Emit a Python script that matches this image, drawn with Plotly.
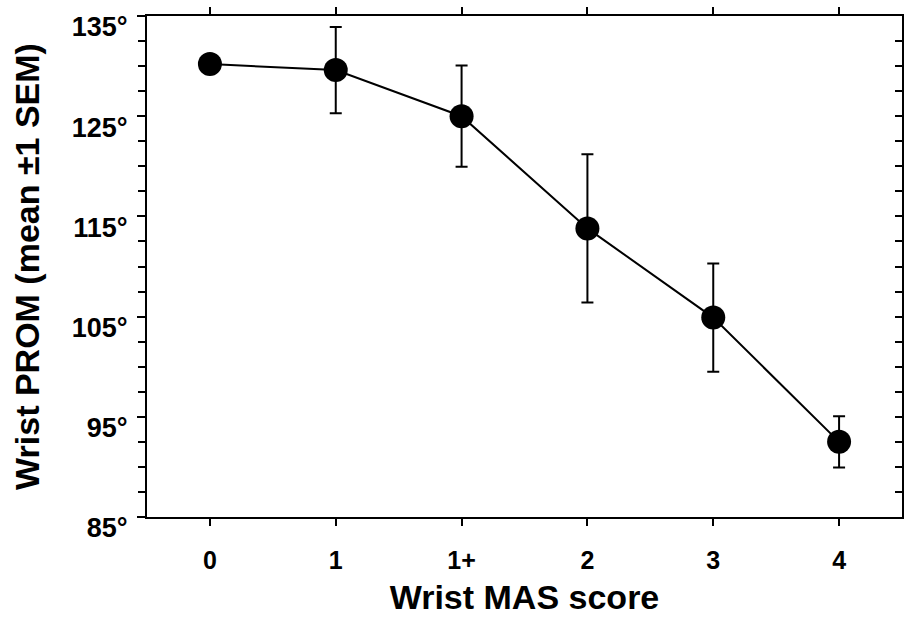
import plotly.graph_objects as go

categories = ["0", "1", "1+", "2", "3", "4"]
prom_mean = [130.2, 129.6, 125.0, 113.8, 104.9, 92.5]
prom_sem = [0.0, 4.3, 5.05, 7.4, 5.4, 2.55]
y_tick_vals = [85, 95, 105, 115, 125, 135]
y_tick_text = ["85°", "95°", "105°", "115°", "125°", "135°"]

FONT = "Liberation Sans, Arial, Helvetica, sans-serif"

fig = go.Figure()
fig.add_trace(go.Scatter(
    x=categories, y=prom_mean,
    mode="lines+markers",
    line=dict(color="black", width=2),
    marker=dict(color="black", size=24),
    error_y=dict(type="data", array=prom_sem, visible=True,
                 color="black", thickness=2, width=6),
    showlegend=False,
))

# invisible trace to activate right-side axis
fig.add_trace(go.Scatter(x=categories, y=prom_mean, yaxis="y2",
                         mode="markers", marker=dict(opacity=0),
                         showlegend=False, hoverinfo="skip"))

fig.update_layout(
    width=904, height=624,
    margin=dict(l=147, r=2, t=16, b=107),
    paper_bgcolor="white", plot_bgcolor="white",
    font=dict(family=FONT, color="black"),
    xaxis=dict(
        type="category", range=[-0.5, 5.5],
        showline=True, linecolor="black", linewidth=2, mirror="ticks",
        ticks="outside", ticklen=7, tickwidth=2, tickcolor="black",
        showgrid=False, zeroline=False,
        tickfont=dict(family=FONT, size=25, color="black", weight="bold"),
        ticklabelstandoff=13,
        title=dict(text="Wrist MAS score",
                   font=dict(family=FONT, size=34, color="black", weight="bold"),
                   standoff=12),
    ),
    yaxis=dict(
        range=[85, 135],
        tickvals=y_tick_vals, ticktext=y_tick_text,
        showline=True, linecolor="black", linewidth=2,
        ticks="outside", ticklen=8, tickwidth=2, tickcolor="black",
        minor=dict(dtick=2.5, ticks="outside", ticklen=7, tickwidth=2, tickcolor="black"),
        showgrid=False, zeroline=False,
        tickfont=dict(family=FONT, size=27, color="black", weight="bold"),
        ticklabelshift=11, ticklabelstandoff=4,
        title=dict(text="Wrist PROM (mean ±1 SEM)",
                   font=dict(family=FONT, size=34, color="black", weight="bold"),
                   standoff=22),
    ),
    yaxis2=dict(
        overlaying="y", side="right", range=[85, 135],
        tickvals=y_tick_vals, showticklabels=False,
        showline=True, linecolor="black", linewidth=2,
        ticks="inside", ticklen=7, tickwidth=2, tickcolor="black",
        minor=dict(dtick=2.5, ticks="inside", ticklen=7, tickwidth=2, tickcolor="black"),
        showgrid=False, zeroline=False,
    ),
)

fig.write_html("out.html")
